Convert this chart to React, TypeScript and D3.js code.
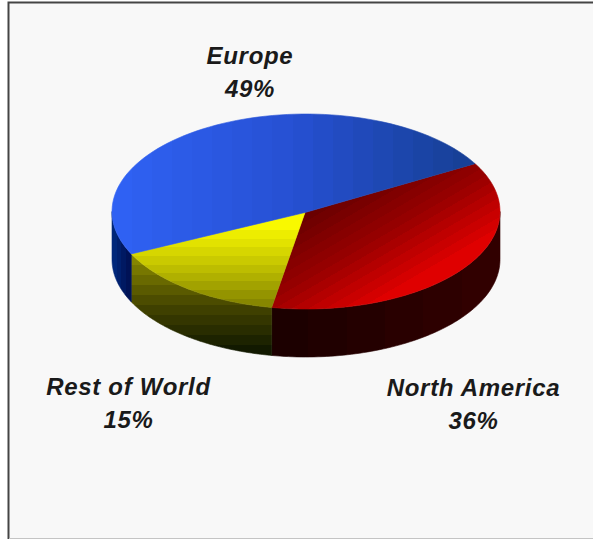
import React from "react";
import * as d3 from "d3";

// Regional share of the total, clockwise from the Europe/North America split.
const regions = ["North America", "Rest of World", "Europe"];
const shares = [36, 15, 49];
const shareLabels = ["36%", "15%", "49%"];

const WIDTH = 593;
const HEIGHT = 539;
const CX = 306;
const CY = 211.5;
const HUB_X = 305;
const HUB_Y = 212.5;
const RX = 194;
const RY = 97.5;
const DEPTH = 48;
const START = (60.6 * Math.PI) / 180;

const FONT = "'Liberation Sans', Arial, sans-serif";

type Pt = [number, number];

const rimPoint = (a: number, dy = 0): Pt => [CX + RX * Math.sin(a), CY - RY * Math.cos(a) + dy];

const sampleArc = (a0: number, a1: number, dy = 0): Pt[] =>
  d3.range(0, 81).map((i) => rimPoint(a0 + ((a1 - a0) * i) / 80, dy));

const line = d3.line<Pt>();

const pieAngles = d3
  .pie<number>()
  .sort(null)
  .startAngle(START)
  .endAngle(START + 2 * Math.PI)(shares);

const topPath = (a0: number, a1: number) =>
  line([[HUB_X, HUB_Y], ...sampleArc(a0, a1)]) + "Z";

// The wall is only visible where the rim runs along the front half of the disc.
const wallPath = (a0: number, a1: number) => {
  const from = Math.max(a0, Math.PI / 2);
  const to = Math.min(a1, (3 * Math.PI) / 2);
  if (to <= from) return null;
  return line([...sampleArc(from, to), ...sampleArc(to, from, DEPTH)]) + "Z";
};

const topFills = ["url(#redTop)", "url(#yellowTop)", "url(#blueTop)"];
const wallFills = ["url(#redWall)", "url(#yellowWall)", "url(#blueWall)"];

type Label = { x: number; y: number; index: number };
const labels: Label[] = [
  { x: 473.5, y: 396, index: 0 },
  { x: 128.5, y: 395, index: 1 },
  { x: 250, y: 64, index: 2 },
];

// Shading is stepped into flat bands, the way the charting package exported it.
const Grad = ({ id, x1, y1, x2, y2, colors, bands }: { id: string; x1: number; y1: number; x2: number; y2: number; colors: string[]; bands: number }) => {
  const ramp = d3.piecewise(d3.interpolateRgb, colors);
  return (
    <linearGradient id={id} gradientUnits="userSpaceOnUse" x1={x1} y1={y1} x2={x2} y2={y2}>
      {d3.range(bands).flatMap((i) => [
        <stop key={`${i}a`} offset={i / bands} stopColor={ramp((i + 0.5) / bands)} />,
        <stop key={`${i}b`} offset={(i + 1) / bands} stopColor={ramp((i + 0.5) / bands)} />,
      ])}
    </linearGradient>
  );
};

export default function App() {
  return (
    <svg
      width={WIDTH}
      height={HEIGHT}
      viewBox={`0 0 ${WIDTH} ${HEIGHT}`}
      style={{ position: "fixed", left: 0, top: 0, display: "block" }}
    >
      <defs>
        <Grad id="blueTop" x1={112} y1={0} x2={473} y2={0} colors={["#2f62f5", "#2650d2", "#163f93"]} bands={18} />
        <Grad id="redTop" x1={360} y1={180} x2={420} y2={283} colors={["#660000", "#990000", "#e40000"]} bands={14} />
        <Grad id="yellowTop" x1={0} y1={222} x2={0} y2={307} colors={["#ffff00", "#c4c400", "#808000"]} bands={10} />
        <Grad id="redWall" x1={270} y1={0} x2={500} y2={0} colors={["#1a0000", "#330000"]} bands={6} />
        <Grad id="yellowWall" x1={0} y1={255} x2={0} y2={355} colors={["#8c8c00", "#454500", "#0c1400"]} bands={10} />
        <Grad id="blueWall" x1={112} y1={0} x2={130} y2={0} colors={["#002a80", "#000f50"]} bands={4} />
      </defs>

      <rect width={WIDTH} height={HEIGHT} fill="#fff" />
      <rect x={8} y={2} width={WIDTH} height={536} fill="#f8f8f8" />
      <path d={`M8.5 ${HEIGHT}V2.5H${WIDTH}`} fill="none" stroke="#444" strokeWidth={2} />
      <path d={`M9 538.5H${WIDTH}`} stroke="#c4c4c4" strokeWidth={1} />

      {pieAngles.map((d, i) => {
        const w = wallPath(d.startAngle, d.endAngle);
        return w ? (
          <path key={regions[i]} d={w} fill={wallFills[i]} stroke={wallFills[i]} strokeWidth={0.6} />
        ) : null;
      })}
      {pieAngles.map((d, i) => (
        <path key={regions[i]} d={topPath(d.startAngle, d.endAngle)} fill={topFills[i]} stroke={topFills[i]} strokeWidth={0.6} />
      ))}

      {labels.map(({ x, y, index }) => (
        <text
          key={regions[index]}
          textAnchor="middle"
          fontFamily={FONT}
          fontSize={24}
          fontWeight="bold"
          fontStyle="italic"
          letterSpacing={0.7}
          fill="#1a1a1a"
        >
          <tspan x={x} y={y}>{regions[index]}</tspan>
          <tspan x={x} y={y + 33}>{shareLabels[index]}</tspan>
        </text>
      ))}
    </svg>
  );
}
